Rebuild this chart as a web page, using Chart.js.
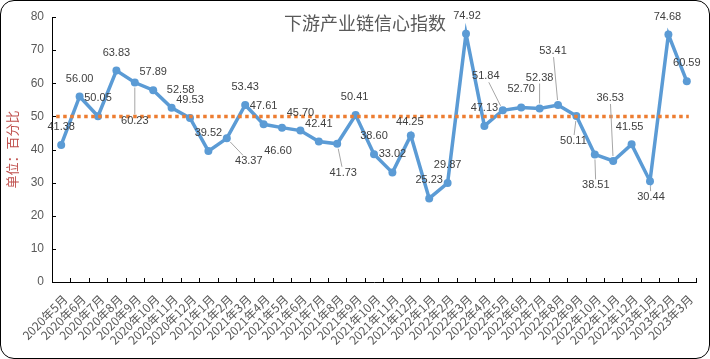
<!DOCTYPE html>
<html><head><meta charset="utf-8">
<script src="https://cdn.jsdelivr.net/npm/chart.js@4.4.0/dist/chart.umd.min.js"></script>
<style>
html,body{margin:0;padding:0;background:#fff;}
#wrap{position:relative;width:710px;height:359px;}
#frame{position:absolute;left:0;top:0;width:710px;height:359px;box-sizing:border-box;border:1.5px solid #000;border-radius:14px;pointer-events:none;}
canvas{position:absolute;left:0;top:0;}
</style></head><body>
<div id="wrap"><canvas id="c" width="710" height="359"></canvas><div id="frame"></div></div>
<script>
const titleText = '下游产业链信心指数';
const yAxisTitle = '单位：百分比';
const categories = ['2020年5月','2020年6月','2020年7月','2020年8月','2020年9月','2020年10月','2020年11月','2020年12月',
  '2021年1月','2021年2月','2021年3月','2021年4月','2021年5月','2021年6月','2021年7月','2021年8月','2021年9月','2021年10月','2021年11月','2021年12月',
  '2022年1月','2022年2月','2022年3月','2022年4月','2022年5月','2022年6月','2022年7月','2022年8月','2022年9月','2022年10月','2022年11月','2022年12月',
  '2023年1月','2023年2月','2023年3月'];
const values = [41.38,56.00,50.05,63.83,60.23,57.89,52.58,49.53,
  39.52,43.37,53.43,47.61,46.60,45.70,42.41,41.73,50.41,38.60,33.02,44.25,
  25.23,29.87,74.92,47.13,51.84,52.70,52.38,53.41,50.11,38.51,36.53,41.55,
  30.44,74.68,60.59];
const threshold = 50;
const yMin = 0, yMax = 80, yStep = 10;
// label placement relative to each point [dx, dy]
const labelOffsets = [[0,-18],[0,-18],[0,-18],[0,-18],[0,38],[0,-18],[9,-18],[0,-18],
  [0,-18],[22,23],[0,-18],[0,-18],[-4,23],[0,-18],[0,-18],[6,29],[-1,-18],[0,-18],[0,-19],[-1,-13],
  [0,-18],[0,-18],[1,-18],[0,-18],[-17,-34],[0,-18],[0,-31],[-5,-54],[-3,25],[1,31],[-3,-63],[-2,-17],
  [1,16],[-1,-18],[0,-18]];

const decor = {
  id:'decor',
  afterDatasetsDraw(chart){
    const {ctx, scales:{x,y}} = chart;
    const yy = y.getPixelForValue(threshold);
    ctx.save();
    ctx.strokeStyle='#ed7d31'; ctx.lineWidth=3.5; ctx.setLineDash([3.5,3.5]);
    ctx.beginPath();
    ctx.moveTo(x.getPixelForValue(0)-5, yy);
    ctx.lineTo(x.getPixelForValue(categories.length-1)+2, yy);
    ctx.stroke();
    ctx.restore();
  },
  afterDraw(chart){
    const {ctx, chartArea:a, scales:{x,y}} = chart;
    ctx.save();
    // inward tick marks
    ctx.strokeStyle='#000'; ctx.lineWidth=1;
    ctx.beginPath();
    const w = (a.right-a.left)/categories.length;
    for(let k=1;k<=categories.length;k++){
      const xx=Math.round(a.left+k*w)+0.5;
      ctx.moveTo(xx,a.bottom); ctx.lineTo(xx,a.bottom-4);
    }
    for(let v=yMin; v<=yMax; v+=yStep){
      const yy=Math.round(y.getPixelForValue(v))+0.5;
      ctx.moveTo(a.left,yy); ctx.lineTo(a.left+4,yy);
    }
    ctx.stroke();
    // data labels
    const meta = chart.getDatasetMeta(0);
    ctx.font='11px "Liberation Sans", Arial, sans-serif';
    ctx.textAlign='center'; ctx.textBaseline='middle';
    values.forEach((v,i)=>{
      const p = meta.data[i];
      const [dx,dy] = labelOffsets[i];
      const lx=p.x+dx, ly=p.y+dy;
      const txt=v.toFixed(2);
      const tw=ctx.measureText(txt).width;
      const d=Math.hypot(dx,dy);
      if(d>24 || (i===32)){
        const ux=dx/d, uy=dy/d;
        const hw=tw/2+1, hh=6;
        const t=Math.min(ux?hw/Math.abs(ux):1e9, uy?hh/Math.abs(uy):1e9);
        const sx=p.x+ux*5, sy=p.y+uy*5;
        const ex=lx-ux*t, ey=ly-uy*t;
        if(Math.hypot(ex-sx,ey-sy)>2){
          ctx.strokeStyle='#a6a6a6'; ctx.lineWidth=1;
          ctx.beginPath(); ctx.moveTo(sx,sy); ctx.lineTo(ex,ey); ctx.stroke();
        }
      }
      ctx.fillStyle='#404040';
      ctx.fillText(txt,lx,ly);
    });
    // title
    ctx.font='18px "Noto Sans CJK SC", sans-serif';
    ctx.fillStyle='#595959';
    ctx.textAlign='center'; ctx.textBaseline='middle';
    ctx.fillText(titleText, 365, 23);
    ctx.restore();
  }
};

new Chart(document.getElementById('c'), {
  type:'line',
  data:{labels:categories, datasets:[{
    data:values, borderColor:'#5b9bd5', backgroundColor:'#5b9bd5',
    borderWidth:3.5, pointRadius:4, pointBorderWidth:0, pointBackgroundColor:'#5b9bd5',
    tension:0, fill:false
  }]},
  options:{
    responsive:false, devicePixelRatio:1, animation:false,
    layout:{padding:{left:0,right:14,top:17,bottom:0}},
    plugins:{legend:{display:false}, tooltip:{enabled:false}, title:{display:false}},
    scales:{
      x:{type:'category', offset:true,
        grid:{display:false, drawTicks:false, offset:true},
        border:{display:true,color:'#000',width:1},
        ticks:{autoSkip:false, minRotation:45, maxRotation:45, padding:10, labelOffset:4,
          color:'#595959', font:{family:'"Noto Sans CJK SC", sans-serif', size:12}},
        afterFit(s){ s.height = 77; }
      },
      y:{min:yMin, max:yMax,
        grid:{display:false, drawTicks:false},
        border:{display:true,color:'#000',width:1},
        ticks:{stepSize:yStep, padding:8, color:'#595959',
          font:{family:'"Liberation Sans", Arial, sans-serif', size:12}},
        title:{display:true, text:yAxisTitle, color:'#c0504d', padding:{top:4,bottom:0},
          font:{family:'"Noto Sans CJK SC", sans-serif', size:13}},
        afterFit(s){ s.width = 52; }
      }
    }
  },
  plugins:[decor]
});
</script>
</body></html>
